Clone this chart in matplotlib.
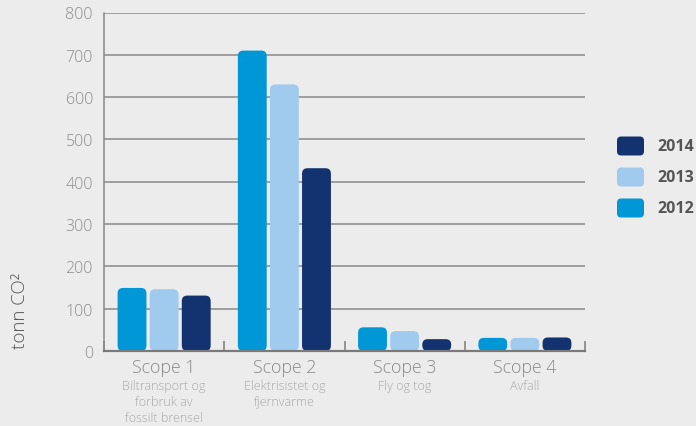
import matplotlib
matplotlib.use("Agg")
import matplotlib.pyplot as plt
from matplotlib.patches import FancyBboxPatch
import numpy as np

categories = ["Scope 1", "Scope 2", "Scope 3", "Scope 4"]
subtitles = ["Biltransport og\nforbruk av\nfossilt brensel", "Elektrisistet og\nfjernvarme", "Fly og tog", "Avfall"]
years = ["2012", "2013", "2014"]
values_2012 = [149, 710, 56, 31]
values_2013 = [146, 630, 47, 31]
values_2014 = [131, 432, 28, 32]
yticks = [0, 100, 200, 300, 400, 500, 600, 700, 800]

colors = {"2012": "#0097d7", "2013": "#a0cbee", "2014": "#12336f"}
series = {"2012": values_2012, "2013": values_2013, "2014": values_2014}

plt.rcParams['font.family'] = ['Open Sans', 'DejaVu Sans']
bg = "#ececec"
fig = plt.figure(figsize=(6.96, 4.27), dpi=100, facecolor=bg)
ax = fig.add_axes([104/696, 1-352/427, (585-104)/696, (352-13.5)/427])
ax.set_facecolor(bg)
ax.set_xlim(-0.5, 3.5)
ax.set_ylim(0, 800)

for t in yticks[1:]:
    ax.axhline(t, color="#8a8a8a", lw=1.1, zorder=1)

bw = 0.24
step = 0.267
px_x = 481 / 4.0
px_y = (352 - 13.5) / 800.0
aspect = px_x / px_y
for j, yr in enumerate(years):
    for i, v in enumerate(series[yr]):
        xc = i + (j - 1) * step
        p = FancyBboxPatch((xc - bw/2, 0), bw, v,
                           boxstyle="round,pad=0,rounding_size=0.045",
                           mutation_aspect=aspect,
                           fc=colors[yr], ec="none", zorder=3)
        ax.add_patch(p)

for s in ["top", "right"]:
    ax.spines[s].set_visible(False)
ax.spines["left"].set_color("#8a8a8a")
ax.spines["left"].set_linewidth(1.1)
ax.spines["bottom"].set_color("#7a7a7a")
ax.spines["bottom"].set_linewidth(1.6)
ax.spines["bottom"].set_zorder(4)

ax.set_yticks(yticks)
ax.set_yticklabels([str(t) for t in yticks], color="#8c8c8c", fontsize=11.5,
                   fontweight="light")
ax.tick_params(axis="y", length=0, pad=8)

ax.set_xticks([-0.5, 0.5, 1.5, 2.5, 3.5])
ax.set_xticklabels([])
ax.tick_params(axis="x", direction="in", length=7, width=1.1, color="#7a7a7a")

for i, (c, s) in enumerate(zip(categories, subtitles)):
    ax.text(i, -38, c, ha="center", va="center", fontsize=12.8, color="#8a8a8a",
            fontweight="light")
    ax.text(i, -67, s, ha="center", va="top", fontsize=9, color="#a8a8a8",
            linespacing=1.3, fontweight="light")

fig.text(20/696, 1-311/427, "tonn CO²", rotation=90, ha="center", va="center",
         fontsize=13.5, color="#555555", fontweight="light")

leg_items = ["2014", "2013", "2012"]
leg_y = [147, 178, 209]
for yr, yy in zip(leg_items, leg_y):
    fig.patches.append(FancyBboxPatch((617/696, 1-(yy+9.5)/427), 27/696, 19/427,
                                      boxstyle="round,pad=0,rounding_size=0.006",
                                      mutation_aspect=696/427,
                                      transform=fig.transFigure, fc=colors[yr], ec="none"))
    fig.text(657/696, 1-yy/427, yr, ha="left", va="center", fontsize=11.5,
             fontweight="bold", color="#555555")

fig.savefig("out.png", dpi=100, facecolor=bg)
